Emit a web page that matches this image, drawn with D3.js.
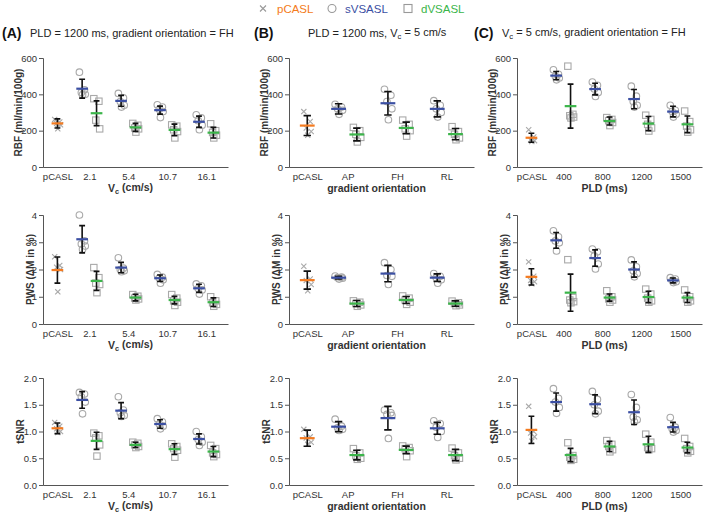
<!DOCTYPE html>
<html><head><meta charset="utf-8">
<script src="https://cdn.jsdelivr.net/npm/d3@7"></script>
<style>
body{margin:0;background:#fff;}
svg{display:block;font-family:"Liberation Sans",Arial,Helvetica,sans-serif;}
</style>
</head><body>
<svg id="chart" width="709" height="513"></svg>
<script>
// ---------- categories & ticks ----------
const catsA = ["pCASL", "2.1", "5.4", "10.7", "16.1"];
const catsB = ["pCASL", "AP", "FH", "RL"];
const catsC = ["pCASL", "400", "800", "1200", "1500"];
const ticksRBF = [0, 200, 400, 600];
const ticksPWS = [0, 1, 2, 3, 4];
const ticksTSNR = [0, 0.5, 1.0, 1.5, 2.0];
const legendLabels = ["pCASL", "sVSASL", "dVSASL"];

// ---------- data: individual points, [mean, sd] ----------
const rbfA = {
  pc: [262, 248, 240, 232, 210],
  sv: [[522, 425, 410, 400, 398], [405, 380, 360, 340, 330], [342, 330, 318, 305, 272], [287, 270, 255, 230, 205]],
  dv: [[376, 362, 258, 210], [240, 230, 215, 210, 192], [232, 225, 205, 195, 160], [238, 200, 190, 175, 160]],
  pcStat: [240, 25],
  svStat: [[431, 52], [364, 30], [313, 22], [249, 31]],
  dvStat: [[296, 68], [218, 22], [204, 32], [189, 29]]
};
const rbfB = {
  pc: [305, 250, 215, 195, 175],
  sv: [[345, 330, 320, 312, 290], [428, 395, 360, 320, 260], [365, 340, 320, 300, 275]],
  dv: [[218, 200, 180, 163, 138], [258, 235, 210, 200, 170], [222, 195, 180, 160, 150]],
  pcStat: [228, 55],
  svStat: [[320, 28], [351, 65], [320, 44]],
  dvStat: [[179, 35], [215, 32], [181, 31]]
};
const rbfC = {
  pc: [205, 165, 150, 145, 140],
  sv: [[535, 510, 500, 490, 480], [468, 450, 430, 410, 388], [445, 390, 360, 340, 330], [340, 312, 305, 290, 275]],
  dv: [[555, 290, 282, 275, 270], [272, 262, 255, 245, 228], [285, 262, 235, 215, 198], [308, 250, 225, 205, 192]],
  pcStat: [161, 25],
  svStat: [[503, 23], [429, 32], [374, 53], [305, 29]],
  dvStat: [[335, 121], [253, 22], [239, 39], [235, 46]]
};
const pwsA = {
  pc: [2.47, 2.15, 2.08, 2.0, 1.18],
  sv: [[4.0, 3.05, 2.94, 2.86, 2.74], [2.43, 2.05, 2.0, 1.95, 1.92], [1.82, 1.72, 1.68, 1.62, 1.5], [1.47, 1.4, 1.3, 1.25, 1.1]],
  dv: [[2.07, 1.7, 1.5, 1.45, 1.15], [1.08, 1.02, 0.95, 0.92, 0.88], [1.08, 0.95, 0.85, 0.8, 0.68], [1.0, 0.85, 0.78, 0.72, 0.65]],
  pcStat: [1.98, 0.48],
  svStat: [[3.11, 0.5], [2.07, 0.19], [1.68, 0.12], [1.31, 0.15]],
  dvStat: [[1.58, 0.35], [0.97, 0.12], [0.88, 0.14], [0.80, 0.16]]
};
const pwsB = {
  pc: [2.12, 1.65, 1.6, 1.45, 1.22],
  sv: [[1.76, 1.72, 1.7, 1.68, 1.65], [2.25, 2.0, 1.78, 1.75, 1.45], [1.85, 1.75, 1.7, 1.62, 1.5]],
  dv: [[0.85, 0.8, 0.75, 0.7, 0.65], [1.03, 0.95, 0.88, 0.8, 0.72], [0.84, 0.78, 0.75, 0.7, 0.67]],
  pcStat: [1.61, 0.33],
  svStat: [[1.70, 0.05], [1.85, 0.30], [1.70, 0.14]],
  dvStat: [[0.75, 0.11], [0.88, 0.13], [0.75, 0.10]]
};
const pwsC = {
  pc: [2.28, 1.75, 1.6, 1.55, 1.48],
  sv: [[3.42, 3.2, 3.05, 2.98, 2.68], [2.75, 2.65, 2.5, 2.2, 2.02], [2.35, 2.1, 1.95, 1.85, 1.73], [1.7, 1.65, 1.6, 1.55, 1.52]],
  dv: [[2.36, 0.97, 0.88, 0.82, 0.78], [1.22, 1.0, 0.92, 0.88, 0.8], [1.28, 1.1, 0.95, 0.85, 0.8], [1.25, 1.0, 0.92, 0.85, 0.8]],
  pcStat: [1.73, 0.30],
  svStat: [[3.07, 0.29], [2.42, 0.30], [2.0, 0.28], [1.60, 0.09]],
  dvStat: [[1.15, 0.68], [0.97, 0.13], [0.99, 0.21], [0.97, 0.18]]
};
const tsnrA = {
  pc: [1.17, 1.1, 1.05, 1.0, 0.98],
  sv: [[1.73, 1.7, 1.65, 1.55, 1.33], [1.65, 1.4, 1.35, 1.3, 1.28], [1.24, 1.18, 1.14, 1.1, 1.05], [1.0, 0.9, 0.85, 0.8, 0.74]],
  dv: [[0.97, 0.92, 0.88, 0.75, 0.54], [0.8, 0.78, 0.75, 0.72, 0.7], [0.77, 0.72, 0.68, 0.65, 0.52], [0.74, 0.68, 0.6, 0.57, 0.53]],
  pcStat: [1.06, 0.10],
  svStat: [[1.59, 0.155], [1.39, 0.15], [1.14, 0.08], [0.86, 0.095]],
  dvStat: [[0.825, 0.16], [0.75, 0.05], [0.67, 0.10], [0.625, 0.095]]
};
const tsnrB = {
  pc: [1.04, 0.9, 0.88, 0.8, 0.76],
  sv: [[1.23, 1.1, 1.07, 1.04, 1.02], [1.4, 1.35, 1.32, 1.3, 0.87], [1.2, 1.15, 1.08, 1.0, 0.89]],
  dv: [[0.68, 0.6, 0.55, 0.5, 0.48], [0.73, 0.7, 0.68, 0.64, 0.53], [0.69, 0.6, 0.55, 0.5, 0.47]],
  pcStat: [0.875, 0.15],
  svStat: [[1.09, 0.095], [1.25, 0.22], [1.06, 0.11]],
  dvStat: [[0.56, 0.09], [0.656, 0.07], [0.56, 0.105]]
};
const tsnrC = {
  pc: [1.47, 1.0, 0.97, 0.9, 0.82],
  sv: [[1.8, 1.62, 1.55, 1.45, 1.34], [1.75, 1.6, 1.5, 1.38, 1.33], [1.69, 1.45, 1.27, 1.22, 1.18], [1.26, 1.08, 1.05, 1.02, 0.99]],
  dv: [[0.79, 0.55, 0.52, 0.48, 0.46], [0.83, 0.76, 0.72, 0.66, 0.62], [0.95, 0.8, 0.7, 0.68, 0.66], [0.87, 0.72, 0.68, 0.63, 0.6]],
  pcStat: [1.03, 0.255],
  svStat: [[1.55, 0.17], [1.51, 0.175], [1.36, 0.23], [1.08, 0.09]],
  dvStat: [[0.56, 0.125], [0.72, 0.095], [0.76, 0.15], [0.70, 0.10]]
};

// ---------- styling / layout ----------
const COL = { pc: "#f47b20", sv: "#3b4fa3", dv: "#3bb54a", pt: "#a9a9a9", axis: "#555", txt: "#333" };
const columns = [
  { x0: 43, cats: catsA, xTitle: "Vc", datasets: [rbfA, pwsA, tsnrA] },
  { x0: 289, cats: catsB, xTitle: "gradient orientation", datasets: [rbfB, pwsB, tsnrB] },
  { x0: 517, cats: catsC, xTitle: "PLD (ms)", datasets: [rbfC, pwsC, tsnrC] }
];
const rows = [
  { top: 58, bottom: 167, domain: [0, 600], ticks: ticksRBF, fmt: d3.format("d"), title: "RBF (ml/min/100g)", tOff: -25 },
  { top: 215, bottom: 324, domain: [0, 4], ticks: ticksPWS, fmt: d3.format("d"), title: "PWS (\u0394M in %)", tOff: -13 },
  { top: 378, bottom: 485, domain: [0, 2], ticks: ticksTSNR, fmt: d3.format(".1f"), title: "tSNR", tOff: -23 }
];
const W = 185;
const jit = [-0.07, 0.06, -0.02, 0.08, 0.01];

const svg = d3.select("#chart");

function addVc(sel, bold) {
  sel.append("tspan").text("V");
  sel.append("tspan").attr("font-size", "0.7em").attr("dy", "0.25em").text("c");
}

columns.forEach((col, ci) => {
  const n = col.cats.length - 1;
  const x = d3.scaleLinear().domain([-0.19, n + 0.56]).range([col.x0, col.x0 + W]);
  const u = x(1) - x(0);
  const catPos = [0.18].concat(d3.range(1, n + 1));

  rows.forEach((row, ri) => {
    const y = d3.scaleLinear().domain(row.domain).range([row.bottom, row.top]);
    const data = col.datasets[ri];
    const g = svg.append("g");

    // y axis
    const ya = g.append("g").attr("transform", `translate(${col.x0},0)`)
      .call(d3.axisLeft(y).tickValues(row.ticks).tickFormat(row.fmt).tickSize(4).tickPadding(2));
    ya.select(".domain").attr("stroke", COL.axis);
    ya.selectAll(".tick line").attr("stroke", COL.axis);
    ya.selectAll("text").attr("fill", COL.txt).attr("font-size", "9.5px");
    // x axis (line + labels)
    const xa = g.append("g").attr("transform", `translate(0,${row.bottom})`)
      .call(d3.axisBottom(x).tickValues(catPos).tickFormat((d, i) => col.cats[i]).tickSize(0).tickPadding(6));
    xa.select(".domain").attr("stroke", COL.axis);
    xa.selectAll("text").attr("fill", COL.txt).attr("font-size", "9.5px");

    // axis titles
    g.append("text").attr("transform", `translate(${col.x0 + row.tOff},${(row.top + row.bottom) / 2}) rotate(-90)`)
      .attr("text-anchor", "middle").attr("dy", "0.35em").attr("font-weight", "bold").attr("font-size", "10px")
      .attr("fill", COL.txt).text(row.title);
    const xt = g.append("text").attr("x", col.x0 + W / 2 - 5).attr("y", row.bottom + 25)
      .attr("text-anchor", "middle").attr("font-weight", "bold").attr("font-size", "10.5px").attr("fill", COL.txt);
    if (col.xTitle === "Vc") { addVc(xt); xt.append("tspan").attr("dy", "-0.25em").text(" (cm/s)"); }
    else xt.text(col.xTitle);

    // groups: [kind, xpos, points, stat]
    const groups = [{ k: "pc", xp: 0.18, pts: data.pc, st: data.pcStat }];
    for (let i = 0; i < n; i++) {
      groups.push({ k: "sv", xp: i + 1 - 0.185, pts: data.sv[i], st: data.svStat[i] });
      groups.push({ k: "dv", xp: i + 1 + 0.185, pts: data.dv[i], st: data.dvStat[i] });
    }
    groups.forEach(gr => {
      const cx = x(gr.xp);
      gr.pts.forEach((v, j) => {
        const px = cx + jit[j % jit.length] * u;
        const py = y(v);
        if (gr.k === "pc") {
          const s = 2.6;
          g.append("path").attr("d", `M${px - s},${py - s}L${px + s},${py + s}M${px - s},${py + s}L${px + s},${py - s}`)
            .attr("stroke", COL.pt).attr("stroke-width", 1.1).attr("fill", "none");
        } else if (gr.k === "sv") {
          g.append("circle").attr("cx", px).attr("cy", py).attr("r", 3.3)
            .attr("fill", "none").attr("stroke", COL.pt).attr("stroke-width", 1.1);
        } else {
          g.append("rect").attr("x", px - 3.2).attr("y", py - 3.2).attr("width", 6.4).attr("height", 6.4)
            .attr("fill", "none").attr("stroke", COL.pt).attr("stroke-width", 1.1);
        }
      });
      // error bar
      const [m, sd] = gr.st;
      const cap = 0.075 * u;
      const yh = y(m + sd), yl = y(m - sd);
      g.append("path").attr("d", `M${cx},${yh}V${yl}M${cx - cap},${yh}H${cx + cap}M${cx - cap},${yl}H${cx + cap}`)
        .attr("stroke", "#111").attr("stroke-width", 1.6).attr("fill", "none");
      // mean line
      const hw = 0.15 * u;
      g.append("line").attr("x1", cx - hw).attr("x2", cx + hw).attr("y1", y(m)).attr("y2", y(m))
        .attr("stroke", COL[gr.k]).attr("stroke-width", 2.2);
    });
  });
});

// panel labels and titles
const labels = [
  { lx: 2, t: "(A)", tx: 30, anchor: "start", title: "PLD = 1200 ms, gradient orientation = FH" },
  { lx: 254, t: "(B)", tx: 308, anchor: "start", title: "B" },
  { lx: 474, t: "(C)", tx: 502, anchor: "start", title: "C" }
];
labels.forEach(l => {
  svg.append("text").attr("x", l.lx).attr("y", 38).attr("font-weight", "bold").attr("font-size", "14px")
    .attr("fill", "#111").text(l.t);
  const t = svg.append("text").attr("x", l.tx).attr("y", 37).attr("font-size", "11px").attr("fill", "#222");
  if (l.title === "B") {
    t.append("tspan").text("PLD = 1200 ms, ");
    addVc(t);
    t.append("tspan").attr("dy", "-0.25em").text(" = 5 cm/s");
  } else if (l.title === "C") {
    addVc(t);
    t.append("tspan").attr("dy", "-0.25em").text(" = 5 cm/s, gradient orientation = FH");
  } else t.text(l.title);
});

// legend
const lg = svg.append("g");
const lgItems = [
  { k: "pc", mx: 263, tx: 277 },
  { k: "sv", mx: 332, tx: 345 },
  { k: "dv", mx: 408, tx: 421 }
];
lgItems.forEach((it, i) => {
  const cy = 8.5;
  if (it.k === "pc") {
    const s = 3;
    lg.append("path").attr("d", `M${it.mx - s},${cy - s}L${it.mx + s},${cy + s}M${it.mx - s},${cy + s}L${it.mx + s},${cy - s}`)
      .attr("stroke", "#999").attr("stroke-width", 1.1);
  } else if (it.k === "sv") {
    lg.append("circle").attr("cx", it.mx).attr("cy", cy).attr("r", 4).attr("fill", "none").attr("stroke", "#999").attr("stroke-width", 1.1);
  } else {
    lg.append("rect").attr("x", it.mx - 4).attr("y", cy - 4).attr("width", 8).attr("height", 8).attr("fill", "none").attr("stroke", "#999").attr("stroke-width", 1.1);
  }
  lg.append("text").attr("x", it.tx).attr("y", cy + 4).attr("font-size", "11.5px").attr("fill", COL[it.k]).text(legendLabels[i]);
});
</script>
</body></html>
